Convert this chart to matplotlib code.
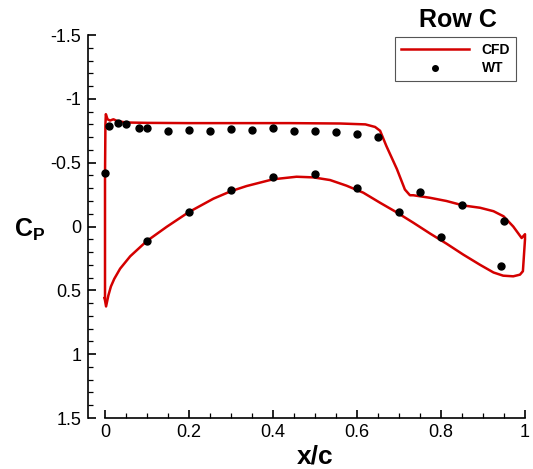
import numpy as np
import matplotlib
matplotlib.use("Agg")
import matplotlib.pyplot as plt
from matplotlib.ticker import MultipleLocator

plt.rcParams['font.family'] = ['Liberation Sans', 'DejaVu Sans']
plt.rcParams['mathtext.fontset'] = 'custom'
plt.rcParams['mathtext.bf'] = 'Liberation Sans:bold'
plt.rcParams['mathtext.rm'] = 'Liberation Sans'

# CFD surface pressure, upper surface LE->TE then lower surface TE->LE
cfd_x = [0.000, 0.000, 0.001, 0.002, 0.006, 0.012, 0.020, 0.030, 0.050, 0.100,
         0.200, 0.300, 0.440, 0.560, 0.620, 0.643, 0.655, 0.670, 0.695, 0.714,
         0.726, 0.734, 0.774, 0.813, 0.853, 0.893, 0.925, 0.949, 0.972, 0.992,
         1.000, 1.000, 0.995, 0.988, 0.972, 0.948, 0.925, 0.893, 0.853, 0.813,
         0.774, 0.734, 0.694, 0.655, 0.615, 0.575, 0.536, 0.496, 0.456, 0.400,
         0.337, 0.300, 0.258, 0.199, 0.147, 0.099, 0.060, 0.036, 0.022, 0.014,
         0.008, 0.0025, -0.001]
cfd_cp = [0.56, -0.40, -0.80, -0.88, -0.84, -0.83, -0.84, -0.825, -0.815, -0.812,
          -0.810, -0.810, -0.810, -0.807, -0.800, -0.780, -0.750, -0.630, -0.450, -0.290,
          -0.245, -0.245, -0.225, -0.200, -0.165, -0.147, -0.120, -0.080, 0.000, 0.090,
          0.060, 0.100, 0.350, 0.377, 0.390, 0.385, 0.360, 0.300, 0.220, 0.134,
          0.055, -0.030, -0.112, -0.186, -0.265, -0.320, -0.364, -0.385, -0.390, -0.370,
          -0.317, -0.277, -0.218, -0.112, 0.002, 0.115, 0.233, 0.330, 0.410, 0.470,
          0.540, 0.626, 0.560]

# wind tunnel taps
wt_x = [0.0, 0.01, 0.03, 0.05, 0.08, 0.10, 0.15, 0.20, 0.25, 0.30, 0.35, 0.40,
        0.45, 0.50, 0.55, 0.60, 0.65, 0.75, 0.85, 0.95,
        0.10, 0.20, 0.30, 0.40, 0.50, 0.60, 0.70, 0.80, 0.943]
wt_cp = [-0.42, -0.79, -0.81, -0.80, -0.775, -0.775, -0.75, -0.755, -0.75, -0.765, -0.76, -0.77,
         -0.745, -0.75, -0.74, -0.725, -0.70, -0.27, -0.17, -0.045,
         0.11, -0.11, -0.285, -0.39, -0.41, -0.30, -0.11, 0.085, 0.31]

fig = plt.figure(figsize=(5.33, 4.69), dpi=100)
ax = fig.add_axes([0.1655, 0.1087, 0.8195, 0.8166])

ax.plot(cfd_x, cfd_cp, color='#d40000', lw=1.8, label='CFD', clip_on=False, zorder=2)
ax.plot(wt_x, wt_cp, 'o', color='black', ms=5, label='WT', zorder=3)

ax.set_xlim(-0.04, 1.0)
ax.set_ylim(1.5, -1.5)
ax.spines['top'].set_visible(False)
ax.spines['right'].set_visible(False)
ax.spines['bottom'].set_bounds(0, 1)
ax.spines['left'].set_bounds(-1.5, 1.5)
for s in ['bottom', 'left']:
    ax.spines[s].set_linewidth(1.2)

ax.xaxis.set_minor_locator(MultipleLocator(0.05))
ax.yaxis.set_minor_locator(MultipleLocator(0.1))
ax.set_xticks([0, 0.2, 0.4, 0.6, 0.8, 1.0])
ax.set_xticklabels(['0', '0.2', '0.4', '0.6', '0.8', '1'])
ax.set_yticks([-1.5, -1, -0.5, 0, 0.5, 1, 1.5])
ax.set_yticklabels(['-1.5', '-1', '-0.5', '0', '0.5', '1', '1.5'])
ax.tick_params(which='major', direction='in', length=6, width=1.2, labelsize=13)
ax.tick_params(which='minor', direction='in', length=3.5, width=0.9)
ax.tick_params(axis='y', pad=5)
ax.tick_params(axis='x', pad=4)

ax.set_xlabel('x/c', fontsize=19, fontweight='bold')
ax.xaxis.set_label_coords(0.52, -0.068)
ax.set_ylabel(r'$\mathbf{C_P}$', fontsize=18, rotation=0, va='center')
ax.yaxis.set_label_coords(-0.135, 0.49)

fig.text(0.860, 0.958, 'Row C', fontsize=18, fontweight='bold', ha='center', va='center')

leg = ax.legend(loc='upper right', bbox_to_anchor=(0.968, 0.921), bbox_transform=fig.transFigure,
                borderaxespad=0, fancybox=False, edgecolor='#555555', framealpha=1,
                handlelength=4.9, handletextpad=0.9, labelspacing=0.33, markerscale=0.8,
                prop={'weight': 'bold', 'size': 10}, borderpad=0.42)
leg.get_frame().set_linewidth(0.8)

fig.savefig('out.png', dpi=100)
